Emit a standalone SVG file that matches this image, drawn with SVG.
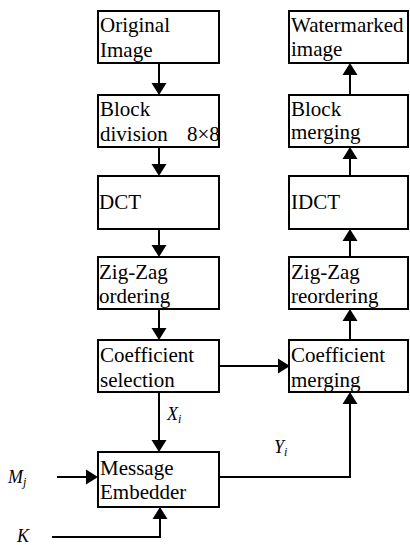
<svg xmlns="http://www.w3.org/2000/svg" width="410" height="545" viewBox="0 0 410 545" font-family="Liberation Serif">
  <rect width="410" height="545" fill="#fff"/>

  <!-- connectors: shafts and arrowheads -->
  <g id="connectors">
    <g fill="none" stroke="#000" stroke-width="2">
      <line x1="159" y1="63" x2="159" y2="84"/>
      <line x1="159" y1="147" x2="159" y2="165"/>
      <line x1="159" y1="229" x2="159" y2="246"/>
      <line x1="159" y1="309" x2="159" y2="329"/>
      <line x1="159" y1="392" x2="159" y2="441"/>
      <line x1="219" y1="366" x2="279" y2="366"/>
      <polyline points="219,477 350,477 350,403"/>
      <line x1="350" y1="340" x2="350" y2="320"/>
      <line x1="350" y1="257" x2="350" y2="240"/>
      <line x1="350" y1="176" x2="350" y2="158"/>
      <line x1="350" y1="95" x2="350" y2="74"/>
      <line x1="57" y1="477" x2="87" y2="477"/>
      <polyline points="52,537 160,537 160,518"/>
    </g>
    <g fill="#000">
      <polygon points="151.5,83 166.5,83 159,95"/>
      <polygon points="151.5,164 166.5,164 159,176"/>
      <polygon points="151.5,245 166.5,245 159,257"/>
      <polygon points="151.5,328 166.5,328 159,340"/>
      <polygon points="151.5,440 166.5,440 159,452"/>
      <polygon points="278,358.5 278,373.5 290,366"/>
      <polygon points="342.5,404 357.5,404 350,392"/>
      <polygon points="342.5,321 357.5,321 350,309"/>
      <polygon points="342.5,241 357.5,241 350,229"/>
      <polygon points="342.5,159 357.5,159 350,147"/>
      <polygon points="342.5,75 357.5,75 350,63"/>
      <polygon points="86,469.5 86,484.5 98,477"/>
      <polygon points="152.5,519 167.5,519 160,507"/>
    </g>
  </g>

  <!-- left column -->
  <g id="original">
    <rect x="98" y="11" width="121" height="52" fill="#fff" stroke="#000" stroke-width="2"/>
    <text x="100" y="32" font-size="21">Original</text>
    <text x="100" y="57" font-size="21">Image</text>
  </g>
  <g id="block-division">
    <rect x="98" y="95" width="121" height="52" fill="#fff" stroke="#000" stroke-width="2"/>
    <text x="100" y="116" font-size="21">Block</text>
    <text x="100" y="141" font-size="21">division</text>
    <text x="187" y="141" font-size="21">8&#215;8</text>
  </g>
  <g id="dct">
    <rect x="98" y="176" width="121" height="53" fill="#fff" stroke="#000" stroke-width="2"/>
    <text x="99" y="209" font-size="21">DCT</text>
  </g>
  <g id="zigzag">
    <rect x="98" y="257" width="121" height="52" fill="#fff" stroke="#000" stroke-width="2"/>
    <text x="99" y="279" font-size="21">Zig-Zag</text>
    <text x="99" y="303" font-size="21">ordering</text>
  </g>
  <g id="coef-selection">
    <rect x="98" y="340" width="121" height="52" fill="#fff" stroke="#000" stroke-width="2"/>
    <text x="100" y="362" font-size="21">Coefficient</text>
    <text x="100" y="387" font-size="21">selection</text>
  </g>
  <g id="embedder">
    <rect x="98" y="452" width="121" height="55" fill="#fff" stroke="#000" stroke-width="2"/>
    <text x="100" y="475" font-size="21">Message</text>
    <text x="100" y="499" font-size="21">Embedder</text>
  </g>

  <!-- right column -->
  <g id="watermarked">
    <rect x="289" y="11" width="119" height="52" fill="#fff" stroke="#000" stroke-width="2"/>
    <text x="291" y="32" font-size="21">Watermarked</text>
    <text x="291" y="56" font-size="21">image</text>
  </g>
  <g id="block-merging">
    <rect x="289" y="95" width="119" height="52" fill="#fff" stroke="#000" stroke-width="2"/>
    <text x="291" y="116" font-size="21">Block</text>
    <text x="291" y="139" font-size="21">merging</text>
  </g>
  <g id="idct">
    <rect x="289" y="176" width="119" height="53" fill="#fff" stroke="#000" stroke-width="2"/>
    <text x="291" y="209" font-size="21">IDCT</text>
  </g>
  <g id="zigzag-re">
    <rect x="289" y="257" width="119" height="52" fill="#fff" stroke="#000" stroke-width="2"/>
    <text x="291" y="279" font-size="21">Zig-Zag</text>
    <text x="291" y="303" font-size="21">reordering</text>
  </g>
  <g id="coef-merging">
    <rect x="289" y="340" width="119" height="52" fill="#fff" stroke="#000" stroke-width="2"/>
    <text x="291" y="362" font-size="21">Coefficient</text>
    <text x="291" y="387" font-size="21">merging</text>
  </g>

  <!-- signal labels -->
  <g id="labels" font-size="18" font-style="italic">
    <text x="167" y="420">X<tspan font-size="12" dy="3">i</tspan></text>
    <text x="274" y="453">Y<tspan font-size="12" dy="3">i</tspan></text>
    <text x="8" y="483">M<tspan font-size="12" dy="3">j</tspan></text>
    <text x="17" y="542">K</text>
  </g>
</svg>
